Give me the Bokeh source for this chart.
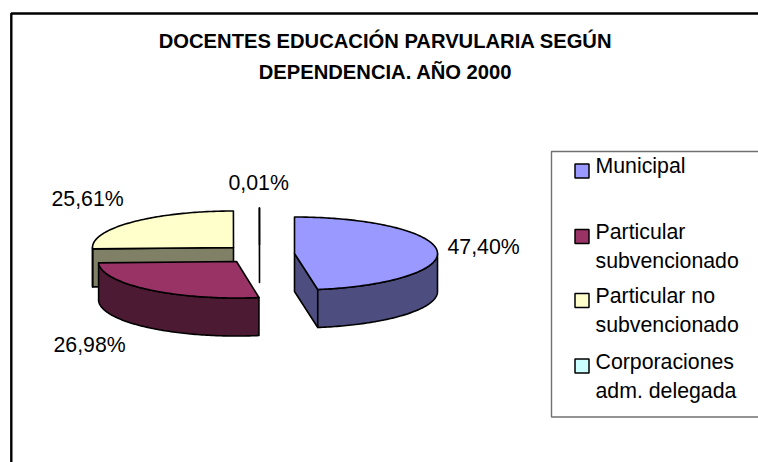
import numpy as np
from bokeh.embed import file_html
from bokeh.models import Range1d
from bokeh.plotting import figure
from bokeh.resources import INLINE
from bokeh.core.properties import value

TITLE_LINES = ["DOCENTES EDUCACIÓN PARVULARIA SEGÚN", "DEPENDENCIA. AÑO 2000"]
CATEGORIES = ["Municipal", "Particular\nsubvencionado", "Particular no\nsubvencionado", "Corporaciones\nadm. delegada"]
SHARES = [47.40, 26.98, 25.61, 0.01]
SHARE_LABELS = ["47,40%", "26,98%", "25,61%", "0,01%"]
TOP_COLORS = ["#9999FF", "#993366", "#FFFFCC", "#CCFFFF"]
SIDE_COLORS = ["#4D4D80", "#4D1A33", "#808066", "#668080"]

# page-pixel layout
W, H = 758, 462
CENTERS = [(294, 253), (236, 261), (233, 247), (259, 244)]
RADII_X = [143, 138, 141, 141]
LABEL_POS = [(447, 246.3), (53, 344.5), (51, 198.3), (228, 182.3)]
RY, DEPTH = 36.5, 38
FONT = value("Liberation Sans")

p = figure(width=W, height=H, x_range=Range1d(0, W), y_range=Range1d(H, 0),
           toolbar_location=None, output_backend="svg", min_border=0,
           border_fill_color="white", background_fill_color="white", outline_line_color=None)
p.xaxis.visible = False
p.yaxis.visible = False
p.grid.visible = False


def rim(cx, cy, rx, a0, a1, dz=0.0):
    t = np.radians(np.linspace(a0, a1, max(int(abs(a1 - a0)) + 2, 2)))
    return cx + rx * np.sin(t), cy - RY * np.cos(t) + dz


def shape(xs, ys, fill):
    p.patch(list(xs), list(ys), fill_color=fill, line_color="black", line_width=1.6, line_join="round")


# slice angles, clockwise from the top
edges = np.concatenate([[0.0], np.cumsum(SHARES)]) / sum(SHARES) * 360
slices = [(i, edges[i], edges[i + 1]) for i in range(len(SHARES))]

# back to front: smallest sliver, yellow, municipal, crimson
for i, a0, a1 in [slices[3], slices[2], slices[0], slices[1]]:
    cx, cy = CENTERS[i]
    rx = RADII_X[i]
    sx0, sy0 = cx + rx * np.sin(np.radians(a0)), cy - RY * np.cos(np.radians(a0))
    sx1, sy1 = cx + rx * np.sin(np.radians(a1)), cy - RY * np.cos(np.radians(a1))
    if i == 0:  # radial wall of the closing edge
        shape([cx, sx1, sx1, cx], [cy, sy1, sy1 + DEPTH, cy + DEPTH], SIDE_COLORS[i])
    if i in (2, 3):  # radial wall of the opening edge
        shape([cx, sx0, sx0, cx], [cy, sy0, sy0 + DEPTH, cy + DEPTH], SIDE_COLORS[i])
    lo, hi = max(a0, 90), min(a1, 270)
    if lo < hi:
        ox, oy = rim(cx, cy, rx, lo, hi)
        ux, uy = rim(cx, cy, rx, hi, lo, DEPTH)
        shape(np.r_[ox, ux], np.r_[oy, uy], SIDE_COLORS[i])
    tx, ty = rim(cx, cy, rx, a0, a1)
    shape(np.r_[cx, tx], np.r_[cy, ty], TOP_COLORS[i])

# chart frame (continues past the window at right and bottom)
p.line([10.8, 10.8, W], [H, 13, 13], line_color="black", line_width=2.4)

# title
p.text([385, 385], [40.7, 71.7], text=TITLE_LINES, text_font=FONT, text_font_style="bold",
       text_font_size="20.2px", text_align="center", text_baseline="alphabetic", text_color="black")

# share labels
p.text([x for x, _ in LABEL_POS], [y for _, y in LABEL_POS], text=SHARE_LABELS, text_font=FONT,
       text_font_size="21.3px", text_align="left", text_baseline="alphabetic", text_color="black")

# legend
p.line([W, 551, 551, W], [151, 151, 416.5, 416.5], line_color="#707070", line_width=1.4)
SWATCH_Y = [170.5, 236, 300, 365.5]
TEXT_Y = [[165.3], [231.3, 260.3], [295.3, 324.3], [361.3, 390.3]]
p.rect([581.5] * 4, SWATCH_Y, width=14, height=14, fill_color=TOP_COLORS, line_color="black", line_width=1.5)
for cat, ys in zip(CATEGORIES, TEXT_Y):
    p.text([595] * len(ys), ys, text=cat.split("\n"), text_font=FONT, text_font_size="21.3px",
           text_align="left", text_baseline="alphabetic", text_color="black")

open("out.html", "w").write(file_html(p, INLINE))
